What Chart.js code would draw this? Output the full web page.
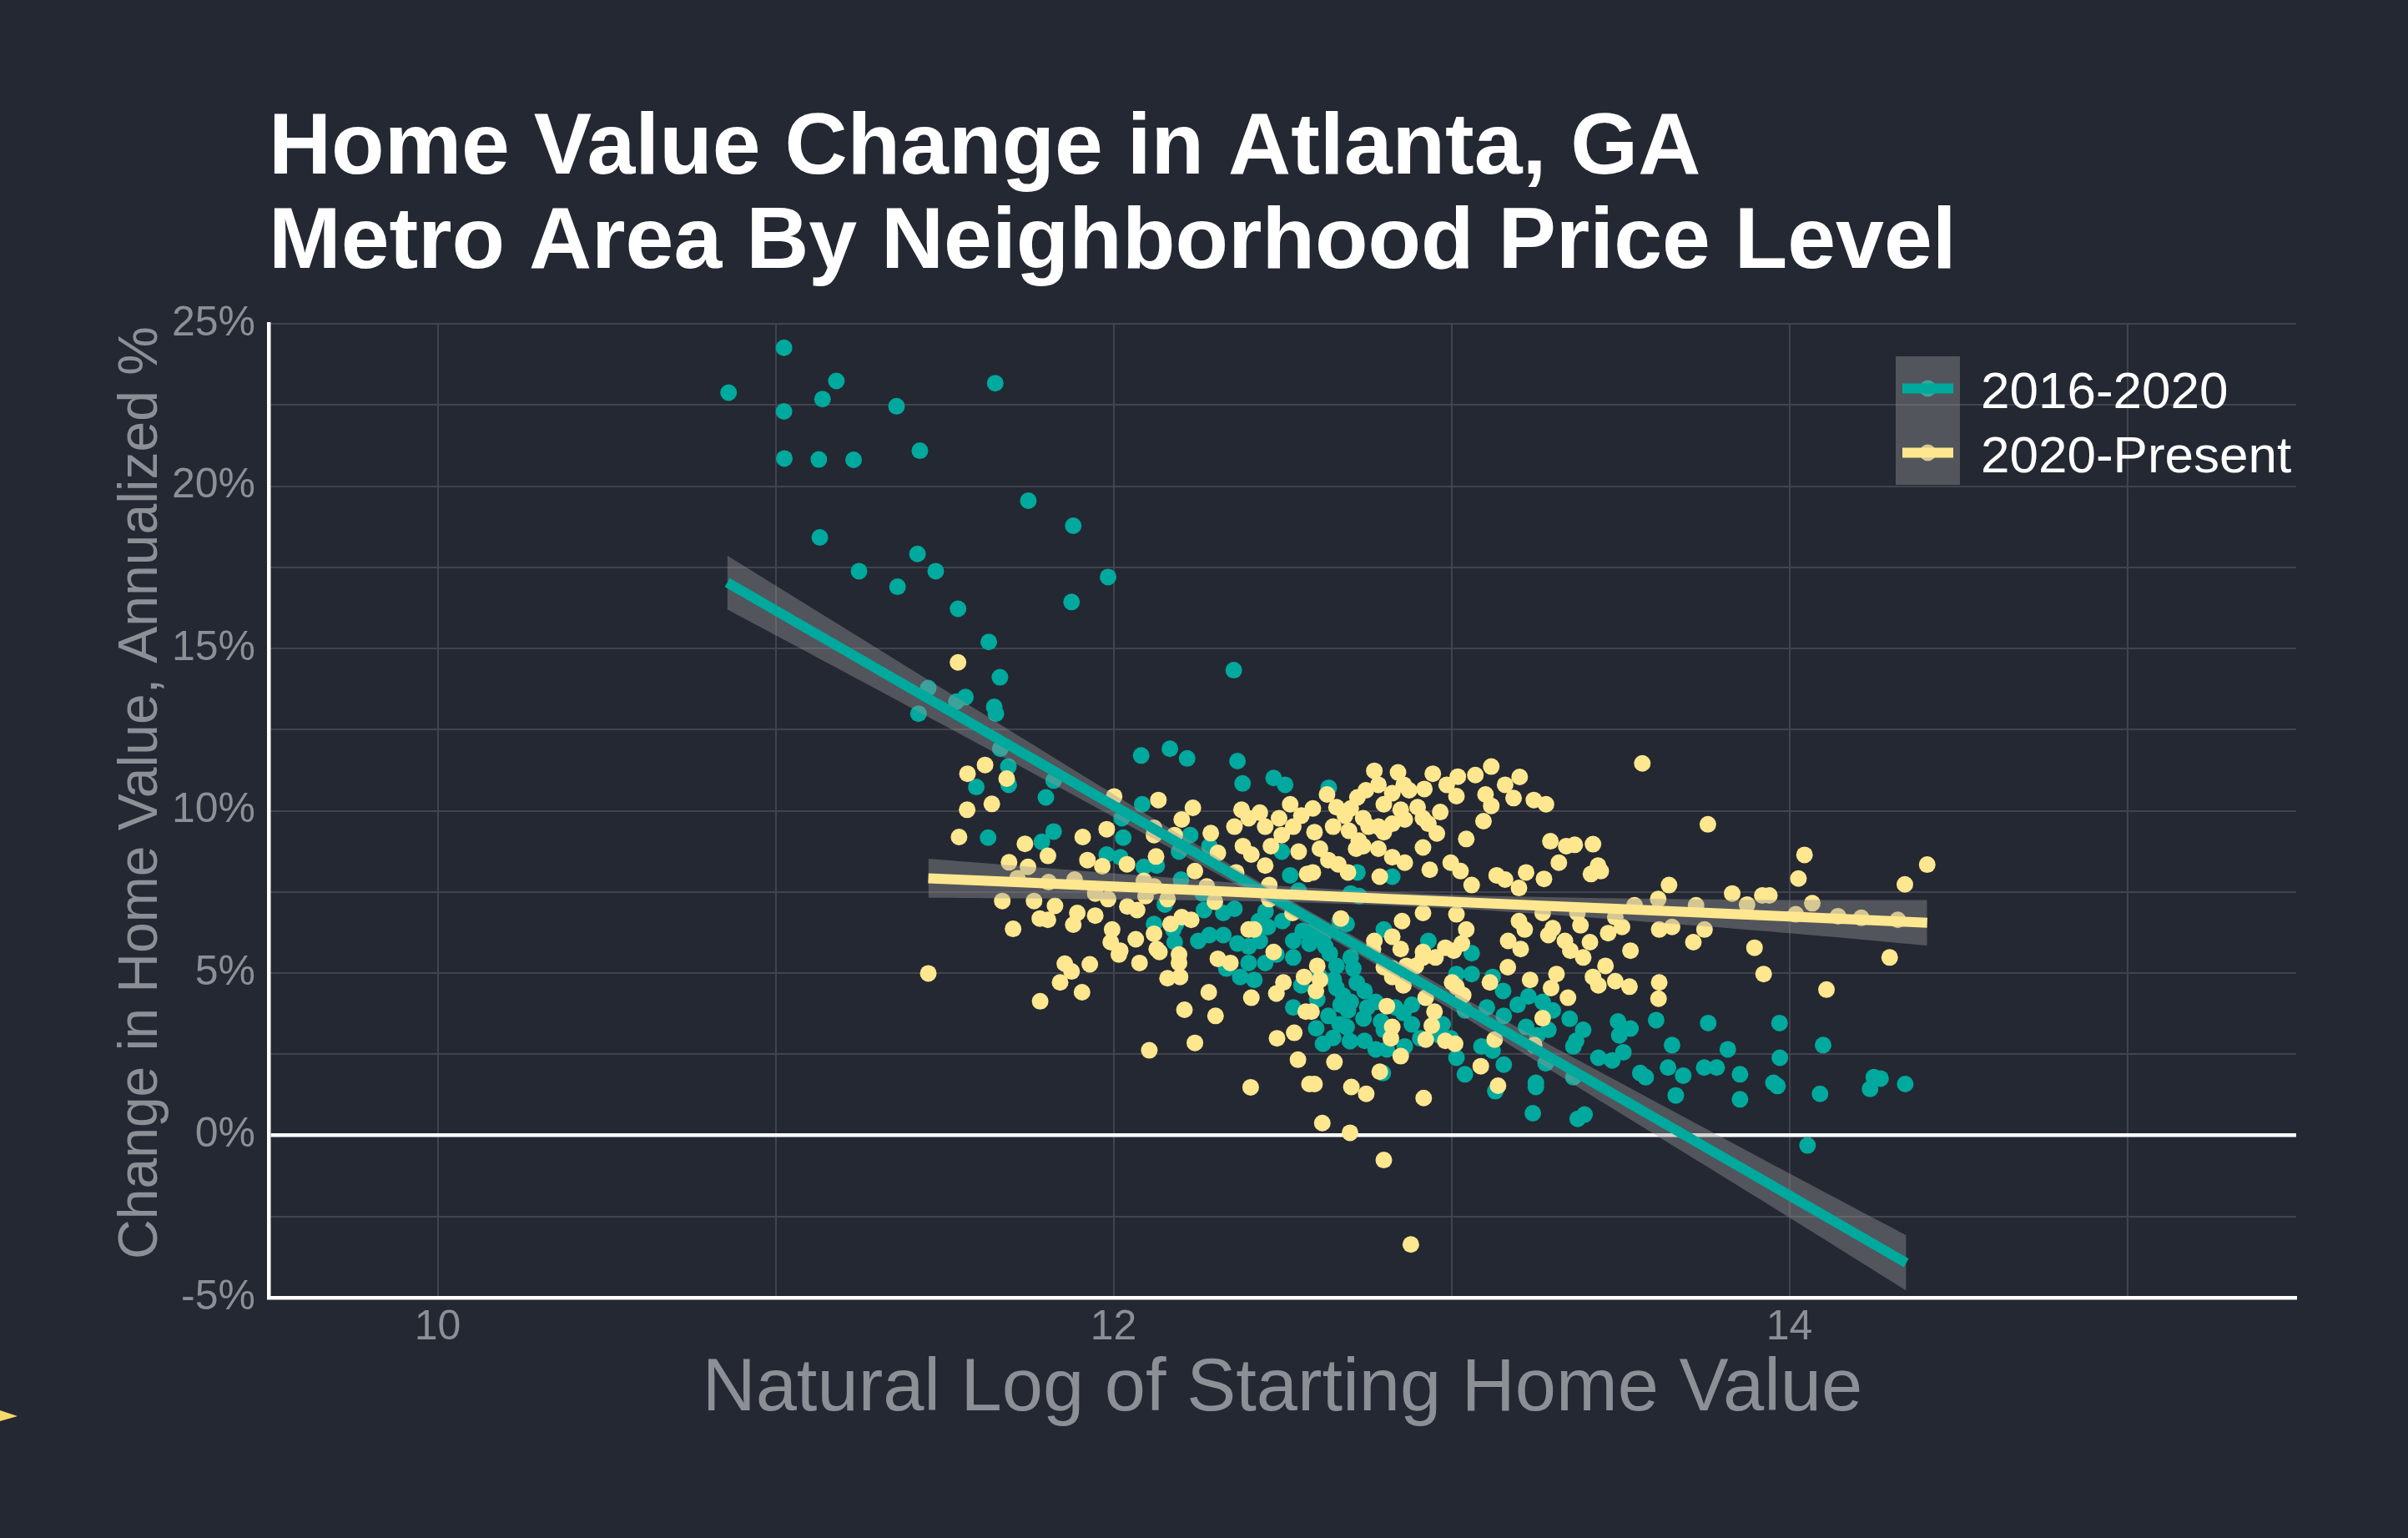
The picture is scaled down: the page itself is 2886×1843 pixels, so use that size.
<!DOCTYPE html>
<html>
<head>
<meta charset="utf-8">
<title>Home Value Change in Atlanta, GA</title>
<script src="https://cdn.jsdelivr.net/npm/chart.js@4.4.1/dist/chart.umd.min.js"></script>
<style>
  html, body { margin: 0; padding: 0; background: #242832; }
  #wrap { width: 2886px; height: 1843px; }
  canvas { display: block; }
</style>
</head>
<body>
<div id="wrap"><canvas id="c" width="2886" height="1843"></canvas></div>
<script>
// ---------------- DATA ----------------
const titleLines = ['Home Value Change in Atlanta, GA', 'Metro Area By Neighborhood Price Level'];
const xAxisTitle = 'Natural Log of Starting Home Value';
const yAxisTitle = 'Change in Home Value, Annualized %';
const seriesNames = ['2016-2020', '2020-Present'];

const xTickValues = [10, 11, 12, 13, 14, 15];
const xTickLabels = ['10', '', '12', '', '14', ''];
const yTickValues = [-5, -2.5, 0, 2.5, 5, 7.5, 10, 12.5, 15, 17.5, 20, 22.5, 25];
const yTickLabels = ['-5%', '', '0%', '', '5%', '', '10%', '', '15%', '', '20%', '', '25%'];

// 2016-2020 points [ln(start value), annualized %]
const points2016 = [
  [10.861,22.88],[11.025,24.26],[11.18,23.24],[11.139,22.68],[11.025,22.30],[11.358,22.46],[11.65,23.17],
  [11.026,20.85],[11.128,20.82],[11.231,20.81],[11.427,21.09],[11.748,19.55],[11.881,18.78],[11.131,18.42],
  [11.42,17.91],[11.247,17.38],[11.474,17.38],[11.361,16.90],[11.984,17.20],[11.876,16.43],[11.54,16.22],
  [11.631,15.20],[12.356,14.33],[11.664,14.11],[11.452,13.78],[11.562,13.50],[11.535,13.36],[11.647,13.20],
  [11.652,12.99],[11.423,12.99],
  [11.665,11.91],[12.082,11.70],[12.167,11.91],[12.218,11.61],[12.367,11.53],[12.382,10.84],[12.474,11.01],
  [12.508,10.80],[11.689,11.36],[11.69,10.80],[11.594,10.73],[11.80,10.41],[11.823,10.93],[12.085,10.20],
  [11.629,9.17],[11.788,9.04],[11.823,9.36],[11.98,8.65],[12.029,9.17],[12.025,9.77],[12.02,8.57],
  [12.09,8.27],[12.128,8.31],[12.20,7.88],[12.227,9.25],[12.194,8.74],[12.264,7.45],[12.284,8.91],
  [12.523,8.01],[12.498,8.74],[12.548,7.54],[12.325,6.85],[12.358,6.98],[12.268,6.94],[12.152,7.11],
  [12.12,6.51],[12.185,6.51],[12.251,5.99],[12.284,6.17],[12.325,6.17],[12.367,5.91],[12.40,5.82],
  [12.433,5.99],[12.457,6.42],[12.482,5.57],[12.532,5.99],[12.532,5.48],[12.334,5.14],[12.375,4.88],
  [12.417,4.79],[12.482,4.37],[12.532,3.94],[12.556,4.62],[12.181,5.95],[12.177,6.34],[12.449,5.31],
  [12.40,5.31],[12.50,6.60],[12.45,6.90],[12.43,6.60],[12.56,6.30],[12.58,5.90],[12.62,6.10],
  [12.61,4.90],[12.64,5.60],[12.68,4.30],[12.72,4.70],[12.74,3.60],[12.60,3.30],[12.65,3.00],[12.70,2.90],
  [12.637,10.71],[12.722,8.10],[12.825,7.97],[12.702,7.45],[12.727,7.37],[12.669,6.60],[12.69,6.51],
  [12.595,6.34],[12.80,6.34],[12.932,5.99],[13.06,5.61],[12.627,5.82],[12.702,5.48],[12.71,5.14],
  [12.66,5.22],[12.652,4.79],[12.603,4.19],[12.66,4.54],[12.672,4.02],[12.694,3.85],[12.702,4.11],
  [12.636,3.68],[12.669,3.42],[12.69,3.34],[12.743,4.45],[12.751,3.94],[12.776,4.11],[12.834,3.94],
  [12.883,4.02],[12.858,3.77],[12.883,3.42],[12.792,3.51],[12.80,3.25],[12.743,2.91],[12.776,2.65],
  [12.809,2.65],[12.862,2.74],[12.908,2.99],[12.62,2.82],[12.797,1.92],[12.965,3.08],[12.998,2.99],
  [13.015,2.39],[13.04,1.88],[13.089,2.74],[13.122,2.61],[13.155,2.18],[13.13,1.36],[13.015,4.97],
  [13.06,4.97],[13.122,4.88],[13.153,4.45],[13.105,3.94],[13.155,3.68],[13.196,4.02],[13.221,3.34],
  [13.254,3.08],[13.287,3.25],[13.228,4.28],[13.27,4.11],[13.30,3.85],[13.35,3.59],[13.39,3.25],
  [13.361,2.74],[13.369,2.91],[13.435,2.39],[13.476,2.31],[13.509,2.56],[13.497,3.08],[13.493,3.51],
  [13.53,3.29],[13.606,3.55],[13.653,2.78],[13.76,3.46],[13.818,2.65],[13.559,1.92],[13.575,1.79],
  [13.641,2.09],[13.686,1.84],[13.748,2.09],[13.785,2.09],[13.664,1.23],[13.854,1.88],[13.854,1.11],
  [13.25,1.62],[13.25,1.49],[13.279,2.22],[13.361,1.79],[13.241,0.68],[13.374,0.51],[13.394,0.64],
  [12.974,3.42],[13.04,3.85],
  [13.971,3.46],[14.10,2.78],[13.972,2.39],[13.953,1.62],[13.965,1.52],[14.091,1.28],[14.25,1.79],
  [14.27,1.75],[14.239,1.43],[14.343,1.58],[14.054,-0.31]
];

// 2020-Present points [ln(start value), annualized %]
const points2020 = [
  [11.54,14.57],
  [11.62,11.41],[11.568,11.14],[11.684,10.99],[11.64,10.21],[11.567,10.03],[11.543,9.19],[12.002,10.44],
  [12.133,10.33],[12.235,10.09],[12.202,9.73],[12.12,9.47],[12.12,9.25],[12.181,9.25],[12.288,9.31],
  [12.309,8.70],[12.126,8.59],[11.98,9.43],[11.909,9.19],[11.738,8.98],[11.806,8.61],[11.691,8.41],
  [11.747,8.27],[11.923,8.48],[11.967,8.29],[12.04,8.35],[12.241,8.14],[12.363,8.10],[12.461,7.71],
  [12.461,7.28],[12.53,6.85],[11.885,7.88],[11.808,7.80],[11.716,7.92],[12.09,7.84],[12.12,7.67],
  [12.276,7.67],[11.671,7.22],[11.765,7.22],[11.827,7.07],[11.984,7.28],[11.946,7.45],[12.041,7.05],
  [12.07,6.94],[12.095,7.37],[12.30,7.20],[12.16,7.28],[11.893,6.85],[11.946,6.77],[11.782,6.68],
  [11.806,6.64],[11.881,6.49],[11.703,6.36],[11.996,6.34],[11.992,5.95],[12.02,5.69],[12.066,6.04],
  [12.12,6.21],[12.128,5.74],[12.136,5.65],[12.169,6.51],[12.202,6.72],[12.23,6.64],[12.194,5.57],
  [12.194,5.31],[12.16,4.84],[12.197,4.88],[12.077,5.31],[12.016,5.57],[12.309,5.44],[12.346,5.31],
  [12.40,6.34],[12.416,6.34],[12.474,5.65],[12.503,4.71],[12.482,4.37],[12.564,4.88],[12.569,3.81],
  [12.408,4.24],[12.282,4.41],[12.21,3.87],[12.302,3.68],[12.241,2.85],[12.106,2.62],[12.406,1.48],
  [12.484,2.99],[12.535,3.16],[12.546,2.33],[11.856,5.29],[11.876,5.05],[11.93,5.27],[11.842,4.71],
  [11.907,4.41],[11.783,4.13],[11.452,4.99],[12.58,1.58],
  [12.379,10.03],[12.358,9.51],[12.40,9.77],[12.433,9.94],[12.449,9.51],[12.408,8.65],[12.383,8.91],
  [12.466,8.91],[12.49,9.77],[12.523,10.20],[12.532,9.51],[12.556,9.85],[12.498,9.25],[12.449,8.31],
  [12.548,8.74],[12.573,8.05],
  [12.772,11.23],[12.842,11.18],[12.945,11.14],[13.019,11.05],[13.071,11.10],[13.118,11.36],[13.202,11.04],
  [13.159,10.80],[13.101,10.50],[13.184,10.39],[13.244,10.33],[13.28,10.20],[13.118,10.15],[13.095,9.68],
  [13.044,9.13],[12.967,9.96],[13.015,10.45],[12.986,10.80],[12.92,10.67],[12.875,10.63],[12.859,10.80],
  [12.825,10.54],[12.784,10.80],[12.747,10.63],[12.722,10.41],[12.702,10.07],[12.632,10.50],[12.59,10.07],
  [12.66,10.11],[12.80,10.20],[12.85,10.03],[12.90,10.11],[12.916,9.77],[12.862,9.73],[12.825,9.60],
  [12.784,9.51],[12.739,9.77],[12.685,9.85],[12.65,9.51],[12.595,9.34],[12.697,9.38],[12.755,9.51],
  [12.80,9.34],[12.932,9.60],[12.957,9.30],[12.916,8.87],[12.726,9.08],[12.739,8.91],[12.718,8.83],
  [12.784,8.83],[12.825,8.57],[12.862,8.40],[12.611,8.83],[12.636,8.48],[12.665,8.35],[12.694,8.10],
  [12.59,8.10],[12.936,8.18],[12.788,7.97],[12.998,8.40],[13.027,8.14],[13.06,7.71],[13.134,8.01],
  [13.159,7.88],[13.221,8.10],[13.274,7.90],[13.20,7.62],[13.293,9.06],[13.34,8.91],[13.365,8.95],
  [13.419,8.97],[13.318,8.40],[13.434,8.31],[13.413,8.05],[13.442,8.14],[13.759,9.58],[13.565,11.46],
  [13.644,7.71],[13.831,7.45],[13.724,7.09],[13.612,7.28],[13.542,7.09],[13.485,6.72],[13.505,6.42],
  [13.464,6.23],[13.382,6.47],[13.373,6.85],[13.615,6.34],[13.653,6.42],[13.716,5.95],[13.749,6.34],
  [13.53,5.69],[13.41,5.95],[13.336,5.99],[13.352,5.69],[13.39,5.48],[13.456,5.22],[13.419,4.88],
  [13.435,4.62],[13.485,4.75],[13.527,4.58],[13.615,4.71],[13.613,4.21],[13.311,4.97],[13.295,4.54],
  [13.345,4.24],[13.287,6.17],[13.30,6.38],[13.27,6.85],[13.217,6.34],[13.20,6.60],[13.168,5.99],
  [13.205,5.74],[13.167,5.18],[13.233,4.79],[13.27,3.61],[13.245,2.78],[13.128,2.95],[13.138,1.53],
  [13.087,2.13],[13.114,4.71],[13.035,4.32],[13.015,4.58],[13.002,4.71],[13.044,6.34],[13.031,5.91],
  [13.007,5.69],[12.982,5.78],[12.953,5.48],[12.916,5.48],[12.895,5.22],[12.867,5.22],[12.825,5.14],
  [12.80,5.18],[12.825,4.88],[12.858,4.62],[12.916,5.65],[12.772,5.99],[12.768,5.74],[12.825,6.12],
  [12.85,5.74],[12.854,6.60],[12.916,6.85],[13.015,6.81],[12.673,6.68],[12.603,5.22],[12.611,4.79],
  [12.599,4.45],[12.586,3.81],[12.809,3.98],[12.924,4.24],[12.95,3.81],[12.942,3.38],[12.825,3.34],
  [12.821,2.99],[12.924,2.95],[12.982,2.91],[13.011,2.82],[12.85,2.44],[12.788,1.96],[12.654,2.26],
  [12.595,1.58],[12.704,1.49],[12.748,1.28],[12.918,1.15],[12.618,0.38],[12.70,0.08],[12.80,-0.76],
  [14.045,8.64],[14.027,7.91],[14.408,8.34],[14.342,7.73],[13.941,7.39],[13.92,7.39],[14.068,7.15],
  [13.875,7.11],[14.019,6.81],[14.144,6.75],[14.213,6.70],[14.321,6.64],[13.897,5.78],[13.924,4.97],
  [14.297,5.48],[14.11,4.49],
  [12.88,-3.36]
];

// Fitted trend lines and their confidence bands
const fit2016X  = [10.857, 11.5, 12.0, 12.5, 13.0, 13.5, 14.0, 14.346];
const fit2016Y  = [17.03, 13.17, 10.16, 7.16, 4.16, 1.15, -1.85, -3.93];
const fit2016Lo = [16.20, 12.62, 9.81, 6.93, 3.88, 0.68, -2.53, -4.78];
const fit2016Hi = [17.86, 13.72, 10.51, 7.39, 4.44, 1.62, -1.17, -3.08];

const fit2020X  = [11.452, 12.0, 12.5, 13.0, 13.5, 14.0, 14.408];
const fit2020Y  = [7.92, 7.67, 7.43, 7.20, 6.97, 6.74, 6.55];
const fit2020Lo = [7.32, 7.27, 7.19, 6.99, 6.64, 6.23, 5.85];
const fit2020Hi = [8.52, 8.07, 7.68, 7.41, 7.30, 7.25, 7.25];

// ---------------- STYLE ----------------
const BG = '#242832';
const GRID = '#41444d';
const TEAL = '#00a99d';
const YELLOW = '#fee78f';
const BAND = 'rgba(153,153,153,0.4)';
const AXIS_TEXT = '#8c8f96';
const FONT = "'Liberation Sans', Arial, Helvetica, sans-serif";

const toXY = (xs, ys) => xs.map((x, i) => ({x: x, y: ys[i]}));
const toPts = arr => arr.map(p => ({x: p[0], y: p[1]}));

const decor = {
  id: 'decor',
  beforeDraw(chart) {
    const ctx = chart.ctx;
    ctx.save();
    ctx.fillStyle = BG;
    ctx.fillRect(0, 0, chart.width, chart.height);
    ctx.restore();
  },
  afterDraw(chart) {
    const ctx = chart.ctx;
    ctx.save();
    // Title
    ctx.fillStyle = '#ffffff';
    ctx.font = 'bold 104px ' + FONT;
    ctx.textAlign = 'left';
    ctx.textBaseline = 'alphabetic';
    ctx.fillText(titleLines[0], 322, 208);
    ctx.fillText(titleLines[1], 322, 321);

    // Y axis title (rotated)
    ctx.save();
    ctx.translate(188, 950);
    ctx.rotate(-Math.PI / 2);
    ctx.fillStyle = AXIS_TEXT;
    ctx.font = '66px ' + FONT;
    ctx.textAlign = 'center';
    ctx.textBaseline = 'alphabetic';
    ctx.fillText(yAxisTitle, 0, 0);
    ctx.restore();

    // Legend
    const kx = 2272, kw = 77, kh = 77, ky = [427, 504];
    const cols = [TEAL, YELLOW];
    for (let i = 0; i < 2; i++) {
      const cy = ky[i] + kh / 2;
      ctx.fillStyle = cols[i];
      ctx.beginPath();
      ctx.arc(kx + kw / 2, cy, 10, 0, Math.PI * 2);
      ctx.fill();
      ctx.fillStyle = BAND;
      ctx.fillRect(kx, ky[i], kw, kh);
      ctx.strokeStyle = cols[i];
      ctx.lineWidth = 12;
      ctx.lineCap = 'butt';
      ctx.beginPath();
      ctx.moveTo(kx + 8, cy);
      ctx.lineTo(kx + kw - 8, cy);
      ctx.stroke();
      ctx.fillStyle = '#ffffff';
      ctx.font = '62px ' + FONT;
      ctx.textAlign = 'left';
      ctx.textBaseline = 'alphabetic';
      ctx.fillText(seriesNames[i], 2374, ky[i] + 62);
    }

    // small marker at the left edge
    ctx.fillStyle = '#f5d96a';
    ctx.beginPath();
    ctx.moveTo(0, 1690);
    ctx.lineTo(21, 1697);
    ctx.lineTo(0, 1703);
    ctx.closePath();
    ctx.fill();
    ctx.restore();
  }
};

const line = (data, color, order) => ({
  data: data, showLine: true, borderColor: color, borderWidth: 12, pointRadius: 0,
  pointHoverRadius: 0, fill: false, order: order, tension: 0.3, borderCapStyle: 'butt'
});
const band = (data, order, fill) => ({
  data: data, showLine: true, borderWidth: 0, borderColor: 'rgba(0,0,0,0)', pointRadius: 0,
  pointHoverRadius: 0, backgroundColor: BAND, fill: fill, order: order, tension: 0.3
});

new Chart(document.getElementById('c'), {
  type: 'scatter',
  data: {
    datasets: [
      line(toXY(fit2020X, fit2020Y), YELLOW, 0),                  // 0
      band(toXY(fit2020X, fit2020Lo), 1, false),                   // 1
      band(toXY(fit2020X, fit2020Hi), 1, 1),                       // 2
      line(toXY(fit2016X, fit2016Y), TEAL, 2),                    // 3
      band(toXY(fit2016X, fit2016Lo), 3, false),                   // 4
      band(toXY(fit2016X, fit2016Hi), 3, 4),                       // 5
      { label: seriesNames[1], data: toPts(points2020), backgroundColor: YELLOW,
        pointRadius: 10, pointBorderWidth: 0, pointHoverRadius: 10, order: 4 },
      { label: seriesNames[0], data: toPts(points2016), backgroundColor: TEAL,
        pointRadius: 10, pointBorderWidth: 0, pointHoverRadius: 10, order: 5 }
    ]
  },
  options: {
    responsive: false,
    devicePixelRatio: 1,
    animation: false,
    events: [],
    layout: { padding: { left: 0, right: 134, top: 388, bottom: 0 } },
    plugins: { legend: { display: false }, title: { display: false }, tooltip: { enabled: false } },
    scales: {
      x: {
        type: 'linear', position: 'bottom', min: 9.5, max: 15.5,
        afterBuildTicks: s => { s.ticks = xTickValues.map(v => ({value: v})); },
        afterFit: s => { s.height = 288; },
        ticks: {
          autoSkip: false, maxRotation: 0, padding: 6, color: AXIS_TEXT,
          font: { family: FONT, size: 50 },
          callback: v => { const i = xTickValues.indexOf(v); return i >= 0 ? xTickLabels[i] : ''; }
        },
        grid: { color: GRID, lineWidth: 2, drawTicks: false },
        border: { display: true, color: '#ffffff', width: 4.5 },
        title: { display: true, text: xAxisTitle, color: AXIS_TEXT,
                 font: { family: FONT, size: 88.5 }, padding: { top: 0, bottom: 124 } }
      },
      y: {
        type: 'linear', position: 'left', min: -5, max: 25,
        afterBuildTicks: s => { s.ticks = yTickValues.map(v => ({value: v})); },
        afterFit: s => { s.width = 322; },
        ticks: {
          autoSkip: false, padding: 16, color: AXIS_TEXT,
          font: { family: FONT, size: 50 },
          callback: v => { const i = yTickValues.indexOf(v); return i >= 0 ? yTickLabels[i] : ''; }
        },
        grid: {
          drawTicks: false,
          color: c => (c.tick && c.tick.value === 0) ? '#ffffff' : GRID,
          lineWidth: c => (c.tick && c.tick.value === 0) ? 4.5 : 2
        },
        border: { display: true, color: '#ffffff', width: 4.5 },
        title: { display: false, text: yAxisTitle }
      }
    }
  },
  plugins: [decor]
});
</script>
</body>
</html>
